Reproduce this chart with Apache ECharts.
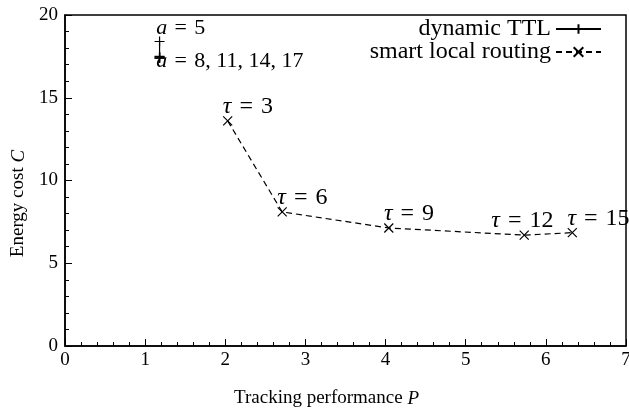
<!DOCTYPE html>
<html>
<head>
<meta charset="utf-8">
<script src="https://cdn.jsdelivr.net/npm/echarts@6/dist/echarts.min.js"></script>
<style>
  html, body { margin: 0; padding: 0; background: #fff; }
  #chart { width: 629px; height: 410px; }
</style>
</head>
<body>
<div id="chart"></div>
<script>
// Dynamic TTL: one point per a value
const aValues = [5, 8, 11, 14, 17];
const ttlP = [1.18, 1.18, 1.18, 1.18, 1.18];
const ttlC = [18.4, 17.5, 17.45, 17.4, 17.4];

// Smart local routing: one point per tau value
const tauValues = [3, 6, 9, 12, 15];
const slrP = [2.03, 2.71, 4.04, 5.73, 6.33];
const slrC = [13.6, 8.1, 7.13, 6.7, 6.85];

const seriesNames = ['dynamic TTL', 'smart local routing'];

const FONT = 'Liberation Serif';
const EQ = '\u2004=\u2004';

const ttlData = ttlP.map((p, i) => {
  const item = { value: [p, ttlC[i]] };
  if (i === 0) {
    item.label = { show: true, formatter: '{i|a}' + EQ + aValues[0], offset: [-9, -13] };
  } else if (i === 1) {
    item.label = { show: true, formatter: '{i|a}' + EQ + aValues.slice(1).join(', '), offset: [-9, 5] };
  }
  return item;
});

const slrData = slrP.map((p, i) => ({
  value: [p, slrC[i]],
  label: {
    show: true,
    formatter: '{i|τ}' + EQ + tauValues[i],
    offset: tauValues[i] === 12 ? [-38, -14] : [-10, -14]
  }
}));

const plusPath = 'path://M5,0L5,10M0,5L10,5';
const crossPath = 'path://M0,0L10,10M0,10L10,0';

function mathLabel(size) {
  return {
    position: 'right',
    distance: 0,
    fontFamily: FONT,
    fontSize: size,
    color: '#000',
    rich: { i: { fontStyle: 'italic', fontFamily: FONT, fontSize: size, color: '#000' } }
  };
}

const legendText = { fontFamily: FONT, fontSize: 24, color: '#000' };

const chart = echarts.init(document.getElementById('chart'));
chart.setOption({
  animation: false,
  backgroundColor: '#fff',
  grid: {
    left: 65, right: 3, top: 15, bottom: 64,
    outerBoundsMode: 'none',
    containLabel: false,
    show: true, borderColor: '#000', borderWidth: 1.5, backgroundColor: 'transparent'
  },
  legend: [
    {
      data: [seriesNames[0]],
      right: 27, top: 17, align: 'right', padding: 0,
      itemWidth: 45, itemHeight: 12, itemGap: 0,
      textStyle: legendText
    },
    {
      data: [seriesNames[1]],
      right: 27, top: 40, align: 'right', padding: 0,
      itemWidth: 45, itemHeight: 12, itemGap: 0,
      textStyle: legendText
    }
  ],
  xAxis: {
    type: 'value',
    min: 0, max: 7, interval: 1,
    name: 'Tracking performance {i|P}',
    nameLocation: 'middle',
    nameGap: 43,
    nameTextStyle: {
      fontFamily: FONT, fontSize: 19, color: '#000',
      padding: [0, 38, 0, 0],
      rich: { i: { fontStyle: 'italic', fontFamily: FONT, fontSize: 19, color: '#000' } }
    },
    axisLine: { show: true, onZero: false, lineStyle: { color: '#000', width: 1.5 } },
    axisTick: { show: true, inside: true, length: 7, lineStyle: { color: '#000', width: 1 } },
    minorTick: { show: true, splitNumber: 5, length: 4, lineStyle: { color: '#000', width: 1 } },
    splitLine: { show: false },
    axisLabel: { fontFamily: FONT, fontSize: 19, color: '#000', margin: 5 }
  },
  yAxis: {
    type: 'value',
    min: 0, max: 20, interval: 5,
    name: 'Energy cost {i|C}',
    nameLocation: 'middle',
    nameGap: 37,
    nameTextStyle: {
      fontFamily: FONT, fontSize: 19, color: '#000',
      padding: [0, 46, 0, 0],
      rich: { i: { fontStyle: 'italic', fontFamily: FONT, fontSize: 19, color: '#000' } }
    },
    axisLine: { show: true, onZero: false, lineStyle: { color: '#000', width: 1.5 } },
    axisTick: { show: true, inside: true, length: 7, lineStyle: { color: '#000', width: 1 } },
    minorTick: { show: true, splitNumber: 5, length: 4, lineStyle: { color: '#000', width: 1 } },
    splitLine: { show: false },
    axisLabel: { fontFamily: FONT, fontSize: 19, color: '#000', margin: 7 }
  },
  series: [
    {
      name: seriesNames[0],
      type: 'line',
      data: ttlData,
      symbol: plusPath,
      symbolSize: 10,
      showSymbol: true,
      lineStyle: { color: '#000', width: 1.2, type: 'solid' },
      itemStyle: { color: '#000', borderColor: '#000', borderWidth: 1.2 },
      label: mathLabel(22),
      emphasis: { disabled: true }
    },
    {
      name: seriesNames[1],
      type: 'line',
      data: slrData,
      symbol: crossPath,
      symbolSize: 9,
      showSymbol: true,
      lineStyle: { color: '#000', width: 1.2, type: [6, 4] },
      itemStyle: { color: '#000', borderColor: '#000', borderWidth: 1.2 },
      label: mathLabel(24),
      emphasis: { disabled: true }
    }
  ]
});
</script>
</body>
</html>
